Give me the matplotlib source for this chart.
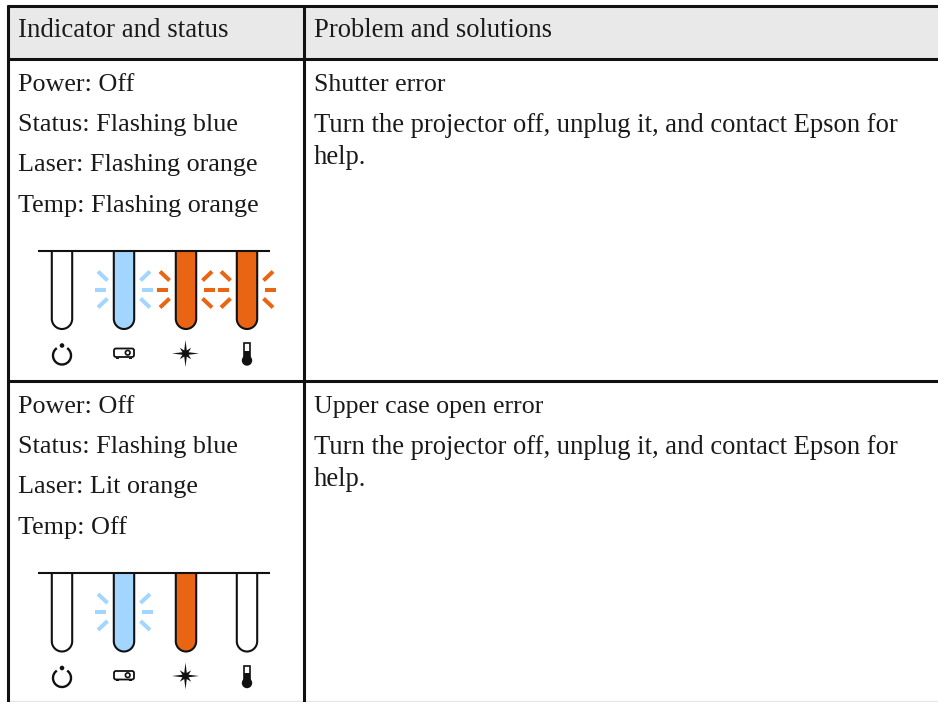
import matplotlib
matplotlib.use('Agg')
import matplotlib.pyplot as plt
from matplotlib.patches import Arc, Circle, FancyBboxPatch, PathPatch, Polygon, Rectangle
from matplotlib.path import Path

headers = ['Indicator and status', 'Problem and solutions']
status_lines = [
    ['Power: Off', 'Status: Flashing blue', 'Laser: Flashing orange', 'Temp: Flashing orange'],
    ['Power: Off', 'Status: Flashing blue', 'Laser: Lit orange', 'Temp: Off'],
]
problem_titles = ['Shutter error', 'Upper case open error']
solution_lines = ['Turn the projector off, unplug it, and contact Epson for', 'help.']
# colour / flashing for power, status, laser, temp
lamp_colors = [
    [None, 'blue', 'orange', 'orange'],
    [None, 'blue', 'orange', None],
]
lamp_flash = [
    [False, True, True, True],
    [False, True, False, False],
]

BLUE = '#a3d6ff'
ORANGE = '#ea6513'
INK = '#111111'
FONT = 'Liberation Serif'
COLORS = {'blue': BLUE, 'orange': ORANGE}
LAMP_X = [62, 124, 186, 247]


def put_text(ax, x, y, s, size=19.2):
    ax.text(x, y, s, family=FONT, fontsize=size, color='#1a1a1a', va='baseline', ha='left')


def draw_lamp(ax, cx, top, color, flash):
    hw = 10.2
    k = hw * 0.55
    bottom = top + 78.5
    verts = [(cx - hw, top), (cx - hw, bottom - hw),
             (cx - hw, bottom - hw + k), (cx - k, bottom), (cx, bottom),
             (cx + k, bottom), (cx + hw, bottom - hw + k), (cx + hw, bottom - hw),
             (cx + hw, top)]
    codes = [Path.MOVETO, Path.LINETO] + [Path.CURVE4] * 6 + [Path.LINETO]
    ax.add_patch(PathPatch(Path(verts, codes), fc=COLORS.get(color, 'white'), ec=INK, lw=1.5, zorder=3))
    if flash:
        cy = top + 39
        for side in (-1, 1):
            ax.plot([cx + side * 18, cx + side * 29], [cy, cy], color=COLORS[color], lw=2.9,
                    solid_capstyle='butt')
            for up in (-1, 1):
                ax.plot([cx + side * 16.5, cx + side * 26], [cy + up * 9, cy + up * 18],
                        color=COLORS[color], lw=2.9, solid_capstyle='butt')


def draw_icons(ax, top):
    # power
    cy = top + 105
    ax.add_patch(Arc((LAMP_X[0], cy), 18, 18, angle=90, theta1=-145, theta2=145, color=INK, lw=1.7))
    ax.add_patch(Circle((LAMP_X[0], cy - 10), 2.3, fc=INK, ec='none'))
    # projector
    ax.add_patch(FancyBboxPatch((114, top + 98), 20, 8.5, boxstyle='round,pad=0,rounding_size=2',
                                fc='white', ec=INK, lw=1.3))
    ax.add_patch(Circle((127.7, top + 102.2), 2.3, fc='white', ec=INK, lw=1.2))
    ax.add_patch(Rectangle((116, top + 107), 3, 1.4, fc=INK, ec='none'))
    ax.add_patch(Rectangle((128.5, top + 107), 3, 1.4, fc=INK, ec='none'))
    # laser star
    sx, sy = 185.5, top + 103
    dirs = [(0, -1), (.71, -.71), (1, 0), (.71, .71), (0, 1), (-.71, .71), (-1, 0), (-.71, -.71)]
    pts = []
    for i in range(8):
        dx, dy = dirs[i]
        r = 13.5 if i % 2 == 0 else 8
        pts.append((sx + dx * r, sy + dy * r))
        ndx, ndy = dirs[(i + 1) % 8]
        mx, my = dx + ndx, dy + ndy
        n = (mx * mx + my * my) ** .5
        pts.append((sx + mx / n * 3.3, sy + my / n * 3.3))
    ax.add_patch(Polygon(pts, closed=True, fc=INK, ec='none'))
    # thermometer
    tx = LAMP_X[3]
    ax.add_patch(Rectangle((tx - 2.7, top + 92.5), 5.4, 16, fc='white', ec=INK, lw=1.2))
    ax.add_patch(Rectangle((tx - 2.7, top + 100), 5.4, 9, fc=INK, ec='none'))
    ax.add_patch(Circle((tx, top + 110), 5.2, fc=INK, ec='none'))


fig = plt.figure(figsize=(9.38, 7.02), dpi=100)
ax = fig.add_axes([0, 0, 1, 1])
ax.set_xlim(0, 938)
ax.set_ylim(702, 0)
ax.axis('off')

# table
ax.add_patch(Rectangle((8, 6), 930, 53, fc='#e9e9e9', ec='none', zorder=0))
for y in (6, 59, 381):
    ax.plot([6.5, 938], [y, y], color=INK, lw=2.2, solid_capstyle='butt', zorder=5)
for x in (8, 304):
    ax.plot([x, x], [5, 702], color=INK, lw=2.2, solid_capstyle='butt', zorder=5)
ax.plot([8, 938], [701, 701], color='#e6e6e6', lw=1)

put_text(ax, 18, 37, headers[0], size=19.4)
put_text(ax, 314, 37, headers[1])

row_tops = [91, 413]
bar_y = [250.5, 573]
for r in range(2):
    for i, line in enumerate(status_lines[r]):
        put_text(ax, 18, row_tops[r] + i * 40.2, line, size=18.8)
    put_text(ax, 314, row_tops[r], problem_titles[r], size=18.6)
    put_text(ax, 314, row_tops[r] + 41, solution_lines[0])
    put_text(ax, 314, row_tops[r] + 73, solution_lines[1])

    ax.plot([38, 270], [bar_y[r], bar_y[r]], color=INK, lw=1.5, solid_capstyle='butt', zorder=4)
    for cx, color, flash in zip(LAMP_X, lamp_colors[r], lamp_flash[r]):
        draw_lamp(ax, cx, bar_y[r], color, flash)
    draw_icons(ax, bar_y[r])

plt.savefig('out.png', dpi=100)
